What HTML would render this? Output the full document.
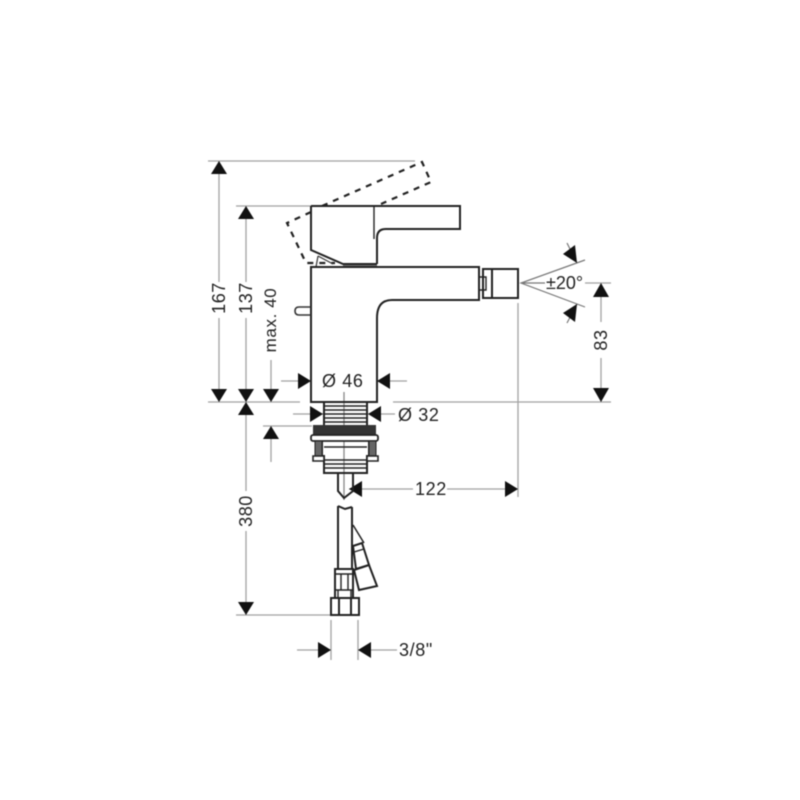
<!DOCTYPE html>
<html><head><meta charset="utf-8"><style>
html,body{margin:0;padding:0;background:#fff;width:800px;height:800px;overflow:hidden}
svg{display:block;filter:blur(0.4px)}
text{font-family:"Liberation Sans",sans-serif;font-size:18px;fill:#222;letter-spacing:.6px}
.d{stroke:#a2a2a2;stroke-width:1.3;fill:none}
.k{stroke:#222;stroke-width:2;fill:none}
.t{stroke:#222;stroke-width:1.4;fill:none}
.a{fill:#111;stroke:none}
</style></head><body>
<svg width="800" height="800" viewBox="0 0 800 800" xmlns="http://www.w3.org/2000/svg">
<rect width="800" height="800" fill="#fff"/>
<!-- extension and dimension lines -->
<g class="d">
<path d="M208 161H415M236 206H311M208 402H300M393 402H611M236 615H331M263 426H312M585 283H611M518 303V497"/>
<path d="M219 161V282M219 318V402M246 206V282M246 318V402M246 402V491M246 531V615M271 360V402M271 426V462M601 283V322M601 358V402"/>
<path d="M281 381H311M377 381H407M293 414H323M368 414H395M349 489H413M447 489H518M297 650H331M358 650H397M331 620V660M358 620V660"/>
<path d="M344 392V500" stroke="#888"/>
</g>
<path d="M585 260L521 283L585 307M521 283H545M567 243L577 263M567 323L577 304" fill="none" stroke="#777" stroke-width="1.2"/>
<!-- arrowheads -->
<g class="a">
<path d="M219 161L211 174H227ZM219 402L211 389H227ZM246 206L238 219H254ZM246 402L238 389H254ZM246 402L238 415H254ZM246 615L238 602H254ZM271 402L263 389H279ZM271 426L263 439H279ZM601 283L593 297H609ZM601 402L593 388H609Z"/>
<path d="M311 381L298 373V389ZM377 381L390 373V389ZM323 414L310 406V422ZM368 414L381 406V422ZM349 489L362 481V497ZM518 489L505 481V497ZM331 650L318 642V658ZM358 650L371 642V658Z"/>
<path d="M577 263L563 254L575 245ZM577 304L563 313L575 322Z"/>
</g>
<!-- dashed handle -->
<path d="M311 212L287 223L306 263H335M322 206L422 162L431 182L381 204" fill="none" stroke="#222" stroke-width="2.2" stroke-dasharray="6 6"/>
<!-- handle -->
<rect x="343" y="263" width="34" height="4" fill="#777"/>
<path class="k" d="M311 206H460V229H386Q377 229 377 238V264M311 206V250L343 264H377"/>
<path class="t" d="M374 206V239"/>
<path d="M316 267L318 256M318 256L333 264" fill="none" stroke="#333" stroke-width="1.2"/>
<!-- body -->
<path class="k" d="M311 267H479V300H392Q377 300 377 318V402H311Z"/>
<path d="M311 307H299Q295 307 295 311Q295 315 299 315H311" fill="none" stroke="#333" stroke-width="1.6"/>
<!-- outlet -->
<path class="k" d="M483 269H518V298H483Z"/>
<path class="k" d="M492 269V298"/>
<path class="t" d="M479 277H486V290H479M483 280V288"/>
<!-- threaded shank -->
<path class="k" d="M324 403V425M367 403V425"/>
<path class="t" d="M324 406H367M324 410H367M324 414H367M324 418H367M324 422H367"/>
<rect x="313" y="425" width="63" height="10" fill="#333"/>
<rect x="311" y="435" width="67" height="6" rx="2" fill="#fff" stroke="#222" stroke-width="1.8"/>
<path class="k" d="M322 441V456H324V473H367V456H369V441"/>
<path class="t" d="M324 447H367M324 460H367M324 464H367M324 468H367"/>
<path d="M315 441H322V456H315ZM369 441H376V456H369Z" fill="#666" stroke="#222" stroke-width="1"/>
<path d="M313 456H324V461H313ZM367 456H378V461H367Z" fill="#fff" stroke="#222" stroke-width="1.6"/>
<path class="k" d="M338 474V491L344 498L353 491V474"/>
<!-- hoses -->
<path class="k" d="M338 506V569M352 507V569M338 506L345 509L352 507"/>
<path d="M353 525L364 543" stroke="#222" stroke-width="1.5" fill="none"/>
<path class="k" d="M335 569H353V598H335Z"/>
<path class="t" d="M335 574H353M341 574V590M348 574V590M335 590H353M338 590V598M351 590V598"/>
<path class="k" d="M331 598H359V615H331Z"/>
<path class="k" d="M339 598V615M351 598V615"/>
<path class="k" d="M353 546L362 543L369 565L356 569Z"/>
<path class="t" d="M354 552L364 549"/>
<path class="k" d="M354 570L369 565L377 586L359 590Z"/>
<path class="t" d="M361 568L366 566"/>
<!-- labels -->
<text transform="translate(225 298) rotate(-90)" text-anchor="middle">167</text>
<text transform="translate(252 298) rotate(-90)" text-anchor="middle">137</text>
<text transform="translate(276 320) rotate(-90)" text-anchor="middle" style="font-size:17px">max. 40</text>
<text transform="translate(252 511) rotate(-90)" text-anchor="middle">380</text>
<text transform="translate(607 340) rotate(-90)" text-anchor="middle">83</text>
<text x="322" y="387">Ø 46</text>
<text x="398" y="421">Ø 32</text>
<text x="415" y="495">122</text>
<text x="399" y="656">3/8"</text>
<text x="546" y="289" style="letter-spacing:0">±20°</text>
</svg>
</body></html>
